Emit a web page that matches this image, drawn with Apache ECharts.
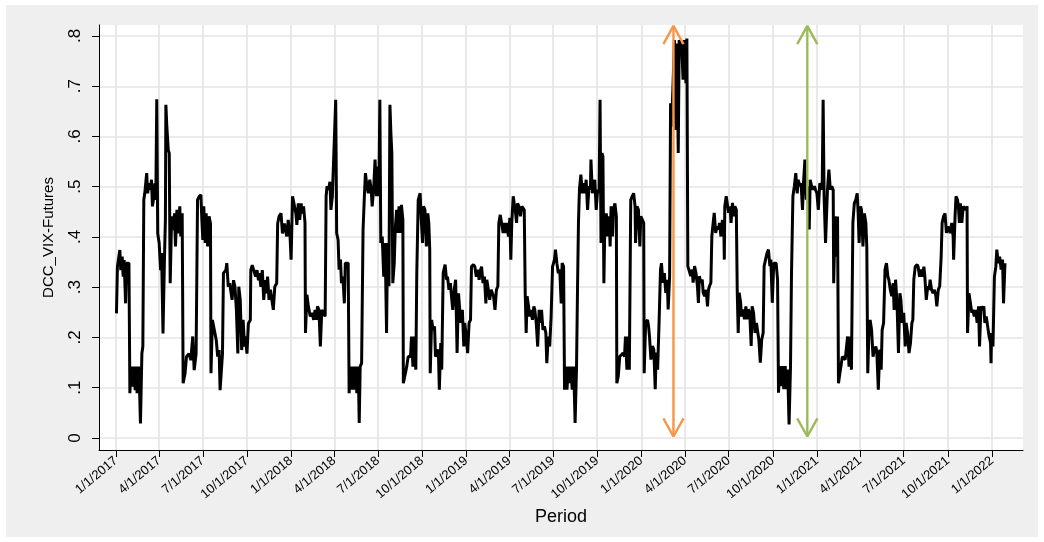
<!DOCTYPE html>
<html><head><meta charset="utf-8">
<script src="https://cdn.jsdelivr.net/npm/echarts@6/dist/echarts.min.js"></script>
<style>
html,body{margin:0;padding:0;background:#fff;}
#bg{position:absolute;left:6px;top:5px;width:1032px;height:532px;background:#efefef;}
#c{position:absolute;left:0;top:0;width:1044px;height:542px;}
</style>
</head><body><div id="bg"></div><div id="c"></div>
<script>
// x tick labels (quarter starts)
const xTickLabels = ['1/1/2017','4/1/2017','7/1/2017','10/1/2017','1/1/2018','4/1/2018','7/1/2018','10/1/2018',
  '1/1/2019','4/1/2019','7/1/2019','10/1/2019','1/1/2020','4/1/2020','7/1/2020','10/1/2020',
  '1/1/2021','4/1/2021','7/1/2021','10/1/2021','1/1/2022'];
const yTickValues = [0,0.1,0.2,0.3,0.4,0.5,0.6,0.7,0.8];
const yTickLabels = ['0','.1','.2','.3','.4','.5','.6','.7','.8'];

// observation dates as days since 1 Jan 2017
const dayOffsets = [
1,3,8,10,13,15,17,20,22,27,29,31,34,37,40,42,44,47,49,51,54,56,58,60,64,66,69,72,74,76,79,81,83,85,87,90,93,95,98,101,103,104,106,109,111,113,116,120,122,124,127,130,133,135,138,140,144,147,152,156,160,163,167,170,173,177,179,181,183,186,188,191,194,197,198,201,205,209,212,215,217,222,224,229,231,234,237,240,242,245,248,251,254,256,259,262,265,268,270,273,276,280,281,284,288,291,294,297,299,302,305,308,311,313,316,319,322,324,328,331,335,337,340,344,347,351,
356,359,363,365,368,372,375,377,380,383,386,388,391,394,395,398,401,405,409,412,415,418,420,423,426,429,433,436,438,440,443,446,448,451,455,458,460,463,465,468,470,473,476,478,481,484,486,488,491,494,497,500,502,505,507,509,512,515,518,520,523,526,529,532,534,537,540,543,545,548,550,552,555,558,561,564,566,569,571,573,575,577,580,582,585,587,590,593,595,598,599,602,606,609,614,616,619,622,625,627,630,634,636,639,641,644,647,650,652,654,655,658,661,664,666,669,672,674,677,679,682,686,689,691,694,697,700,702,705,708,711,714,716,719,722,725,727,
730,733,736,739,741,745,748,751,754,757,759,762,765,768,771,773,776,779,782,784,787,790,793,796,798,801,804,807,809,812,815,818,821,823,825,828,830,833,835,837,840,843,846,848,851,853,855,857,860,862,865,868,871,873,876,879,882,885,887,890,893,896,898,901,904,907,910,914,916,919,922,925,928,930,933,935,937,940,943,946,948,951,954,957,960,962,964,966,969,972,975,978,980,983,986,989,990,993,996,998,1001,1004,1007,1009,1011,1013,1015,1017,1019,1022,1025,1028,1030,1032,1035,1037,1040,1043,1044,1047,1050,1054,1057,1060,1062,1065,1068,1070,1073,1076,1079,1082,1083,1086,1089,1092,1094,1097,1100,1101,1104,1108,
1110,1112,1115,1118,1121,1124,1126,1129,1132,1135,1137,1140,1143,1146,1149,1151,1154,1156,1158,1161,1164,1167,1169,1172,1174,1176,1179,1182,1185,1188,1190,1192,1195,1198,1201,1203,1206,1209,1212,1214,1216,1219,1222,1224,1227,1230,1233,1235,1237,1240,1242,1244,1247,1250,1253,1256,1258,1261,1264,1267,1268,1269,1272,1274,1277,1280,1282,1285,1288,1290,1293,1295,1297,1299,1302,1304,1307,1310,1313,1315,1318,1321,1324,1326,1329,1332,1335,1338,1340,1343,1346,1349,1351,1354,1357,1360,1363,1365,1368,1371,1374,1376,1379,1381,1383,1386,1389,1392,1395,1397,1400,1403,1406,1408,1411,1414,1417,1420,1422,1425,1428,1431,1433,1436,1439,1442,1445,1447,1450,1453,1456,1458,1461,1464,1467,1470,1472,1474,1476,1479,
1483,1486,1489,1492,1495,1496,1499,1502,1504,1506,1508,1511,1514,1517,1520,1522,1525,1528,1531,1533,1536,1539,1542,1545,1547,1549,1552,1554,1557,1560,1563,1565,1567,1570,1572,1575,1578,1581,1584,1586,1589,1592,1595,1597,1600,1603,1606,1609,1611,1614,1617,1620,1622,1625,1628,1631,1634,1636,1639,1642,1645,1647,1650,1653,1656,1659,1661,1663,1666,1670,1672,1675,1678,1681,1684,1686,1689,1692,1695,1697,1700,1703,1706,1709,1711,1714,1717,1720,1722,1725,1728,1731,1734,1736,1739,1742,1745,1746,1749,1751,1754,1756,1758,1760,1763,1766,1768,1771,1774,1775,1778,1781,1784,1786,1789,1792,1795,1798,1800,1803,1806,1809,1811,1814,1817,1820,1823,1824,1825,1828,1831,1834,1836,1839,1842,1845,1848,1850,1853
];
const dccValues = [
0.248,0.341,0.374,0.334,0.361,0.321,0.354,0.268,0.348,0.348,0.089,0.142,0.102,0.142,0.095,0.142,0.089,0.142,0.102,0.029,0.168,0.182,0.474,0.487,0.527,0.487,0.507,0.494,0.514,0.461,0.480,0.507,0.474,0.674,0.407,0.388,0.334,0.368,0.208,0.354,0.434,0.663,0.62,0.573,0.567,0.308,0.441,0.414,0.447,0.381,0.454,0.407,0.461,0.401,0.447,0.109,0.129,0.162,0.168,0.155,0.202,0.135,0.168,0.474,0.480,0.484,0.434,0.394,0.461,0.388,0.447,0.381,0.441,0.427,0.129,0.235,0.235,0.195,0.162,0.175,0.095,0.168,0.328,0.334,0.348,0.301,0.308,0.288,0.275,0.314,0.301,0.255,0.168,0.301,0.275,0.175,0.235,0.182,0.202,0.168,0.228,0.235,0.334,0.344,0.341,0.321,0.334,0.314,0.328,0.301,0.334,0.275,0.314,0.288,0.321,0.275,0.295,0.281,0.255,0.301,0.308,0.427,0.441,0.447,0.407,0.427,
0.401,0.434,0.398,0.355,0.481,0.481,0.447,0.424,0.467,0.434,0.467,0.447,0.461,0.428,0.209,0.285,0.262,0.242,0.249,0.235,0.255,0.235,0.262,0.255,0.182,0.255,0.255,0.242,0.481,0.501,0.494,0.510,0.454,0.481,0.481,0.673,0.408,0.394,0.335,0.355,0.308,0.321,0.268,0.348,0.348,0.348,0.089,0.142,0.096,0.142,0.096,0.142,0.089,0.142,0.030,0.142,0.149,0.414,0.487,0.527,0.501,0.487,0.514,0.494,0.461,0.494,0.554,0.481,0.540,0.481,0.673,0.388,0.401,0.321,0.388,0.209,0.388,0.302,0.663,0.607,0.567,0.308,0.348,0.414,0.454,0.408,0.461,0.408,0.464,0.434,0.109,0.123,0.142,0.162,0.162,0.202,0.142,0.202,0.136,0.328,0.474,0.487,0.441,0.388,0.461,0.454,0.381,0.447,0.428,0.375,0.129,0.235,0.215,0.222,0.162,0.169,0.176,0.096,0.189,0.136,0.328,0.345,0.315,0.321,0.295,0.308,0.275,0.255,0.295,0.315,0.169,0.288,0.262,0.229,0.255,0.182,0.229,
0.202,0.169,0.229,0.235,0.341,0.345,0.341,0.321,0.335,0.315,0.331,0.341,0.308,0.321,0.268,0.315,0.295,0.275,0.295,0.295,0.282,0.255,0.295,0.302,0.428,0.444,0.447,0.408,0.428,0.408,0.428,0.401,0.438,0.355,0.428,0.481,0.481,0.447,0.428,0.467,0.461,0.441,0.461,0.464,0.454,0.288,0.209,0.282,0.262,0.242,0.255,0.235,0.262,0.255,0.229,0.182,0.255,0.229,0.255,0.215,0.222,0.209,0.149,0.202,0.182,0.242,0.341,0.355,0.375,0.348,0.328,0.335,0.268,0.348,0.341,0.096,0.142,0.096,0.142,0.109,0.142,0.096,0.142,0.030,0.142,0.295,0.428,0.494,0.524,0.487,0.507,0.487,0.514,0.454,0.501,0.494,0.554,0.487,0.501,0.514,0.454,0.494,0.487,0.673,0.388,0.567,0.560,0.308,0.428,0.447,0.401,0.441,0.381,0.461,0.401,0.454,0.467,0.441,0.109,0.123,0.162,0.162,0.169,0.162,0.202,0.136,0.202,0.136,0.474,0.481,0.487,0.461,0.388,0.461,0.454,0.381,0.441,0.441,0.428,0.129,0.229,0.235,
0.223,0.203,0.156,0.183,0.176,0.097,0.170,0.136,0.229,0.335,0.348,0.309,0.328,0.289,0.315,0.256,0.322,0.666,0.62,0.70,0.792,0.613,0.785,0.567,0.792,0.779,0.785,0.713,0.792,0.706,0.795,0.342,0.342,0.322,0.335,0.309,0.342,0.328,0.302,0.269,0.322,0.309,0.315,0.289,0.282,0.295,0.262,0.295,0.302,0.309,0.401,0.421,0.448,0.408,0.421,0.415,0.428,0.401,0.434,0.421,0.355,0.461,0.481,0.481,0.448,0.461,0.428,0.468,0.441,0.461,0.454,0.289,0.209,0.289,0.269,0.242,0.256,0.236,0.262,0.236,0.256,0.249,0.183,0.262,0.249,0.209,0.229,0.209,0.196,0.150,0.196,0.209,0.342,0.355,0.368,0.375,0.342,0.355,0.269,0.348,0.348,0.348,0.315,0.090,0.143,0.103,0.143,0.097,0.143,0.097,0.136,0.027,0.143,0.322,0.481,0.501,0.527,0.487,0.514,0.501,0.507,0.454,0.507,0.554,0.474,0.501,0.415,0.514,0.501,0.494,0.501,0.494,0.487,0.454,0.507,0.501,0.494,0.673,0.481,0.388,
0.494,0.534,0.494,0.501,0.494,0.308,0.441,0.361,0.441,0.109,0.123,0.142,0.162,0.162,0.156,0.156,0.202,0.142,0.202,0.136,0.428,0.467,0.474,0.487,0.447,0.388,0.461,0.454,0.381,0.447,0.428,0.381,0.129,0.229,0.235,0.215,0.162,0.176,0.182,0.169,0.096,0.176,0.136,0.215,0.229,0.335,0.348,0.321,0.315,0.295,0.282,0.308,0.255,0.315,0.268,0.169,0.288,0.275,0.229,0.249,0.182,0.229,0.209,0.169,0.189,0.229,0.235,0.315,0.341,0.345,0.341,0.321,0.335,0.321,0.341,0.321,0.275,0.302,0.295,0.315,0.295,0.288,0.295,0.282,0.262,0.295,0.302,0.361,0.428,0.441,0.447,0.408,0.421,0.414,0.408,0.428,0.401,0.355,0.441,0.481,0.474,0.461,0.428,0.467,0.428,0.461,0.461,0.454,0.461,0.209,0.288,0.268,0.249,0.255,0.242,0.255,0.229,0.262,0.182,0.262,0.255,0.262,0.229,0.242,0.222,0.202,0.189,0.149,0.209,0.182,0.321,0.341,0.375,0.348,0.361,0.335,0.355,0.268,0.348
];

// vertical double-headed arrows (day offset, colour)
const arrowDays = [1162, 1441];
const arrowColors = ['#F79646', '#9BBB59'];
const arrowLow = 0.003, arrowHigh = 0.82;

const DAY = 86400000;
const BASE = Date.UTC(2017, 0, 1);
const FONT = '"Liberation Sans", Arial, Helvetica, sans-serif';

function parseMDY(s){ const p = s.split('/').map(Number); return Date.UTC(p[2], p[0]-1, p[1]); }
const xTickValues = xTickLabels.map(parseMDY);

const lineData = dayOffsets.map((d, i) => [BASE + d * DAY, dccValues[i]]);

const headW = 21 * DAY, headH = 0.036;
const arrowSeries = [];
arrowDays.forEach((d, k) => {
  const t = BASE + d * DAY;
  const style = {color: arrowColors[k], width: 2.4};
  const common = {type: 'line', symbol: 'none', silent: true, lineStyle: style, z: 3, animation: false};
  arrowSeries.push(Object.assign({}, common, {data: [[t, arrowLow], [t, arrowHigh]]}));
  arrowSeries.push(Object.assign({}, common, {data: [[t - headW, arrowHigh - headH], [t, arrowHigh], [t + headW, arrowHigh - headH]]}));
  arrowSeries.push(Object.assign({}, common, {data: [[t - headW, arrowLow + headH], [t, arrowLow], [t + headW, arrowLow + headH]]}));
});

const chart = echarts.init(document.getElementById('c'), null, {renderer: 'canvas'});
chart.setOption({
  animation: false,
  grid: {left: 99, right: 21, top: 25, bottom: 92, show: true, backgroundColor: '#ffffff', borderWidth: 0},
  xAxis: {
    type: 'value',
    min: BASE - 35.4 * DAY,
    max: BASE + 1890.6 * DAY,
    name: 'Period', nameLocation: 'middle', nameGap: 53,
    nameTextStyle: {fontSize: 18, color: '#000', fontFamily: FONT},
    axisLine: {show: true, onZero: false, lineStyle: {color: '#000', width: 1}},
    axisTick: {show: true, length: 7, customValues: xTickValues, lineStyle: {color: '#000', width: 1}},
    axisLabel: {
      customValues: xTickValues, rotate: 40, margin: 9, fontSize: 13, color: '#000', fontFamily: FONT,
      formatter: v => { const i = xTickValues.indexOf(v); return i >= 0 ? xTickLabels[i] : ''; }
    },
    splitLine: {show: true, lineStyle: {color: '#e4e4e4', width: 1.6}}
  },
  yAxis: {
    type: 'value',
    min: -0.0239, max: 0.8219,
    name: 'DCC_VIX-Futures', nameLocation: 'middle', nameGap: 43,
    nameTextStyle: {fontSize: 15, color: '#000', fontFamily: FONT},
    axisLine: {show: true, onZero: false, lineStyle: {color: '#000', width: 1}},
    axisTick: {show: true, length: 7, customValues: yTickValues, lineStyle: {color: '#000', width: 1}},
    axisLabel: {
      customValues: yTickValues, rotate: 90, margin: 15, fontSize: 17, color: '#000', fontFamily: FONT,
      formatter: v => { for (let i = 0; i < yTickValues.length; i++) if (Math.abs(v - yTickValues[i]) < 1e-9) return yTickLabels[i]; return ''; }
    },
    splitLine: {show: true, lineStyle: {color: '#e4e4e4', width: 1.6}}
  },
  series: [
    {type: 'line', data: lineData, symbol: 'none', showSymbol: false, silent: true, z: 2,
     lineStyle: {color: '#000', width: 3}}
  ].concat(arrowSeries)
});
</script>
</body></html>
